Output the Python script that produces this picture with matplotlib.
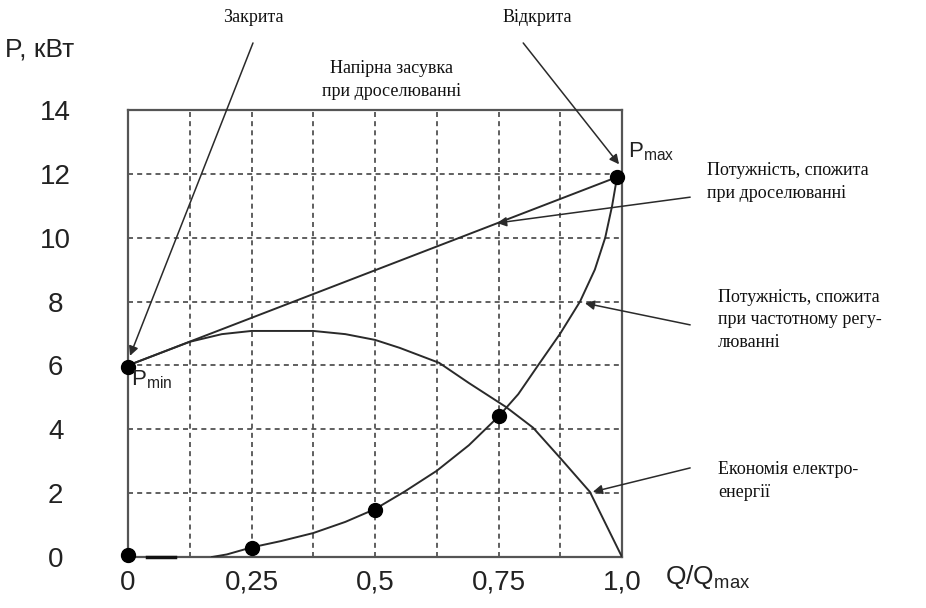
import numpy as np
import matplotlib
matplotlib.use("Agg")
import matplotlib.pyplot as plt

# values
q_ticks = [0, 0.25, 0.5, 0.75, 1.0]
q_tick_labels = ["0", "0,25", "0,5", "0,75", "1,0"]
p_ticks = [0, 2, 4, 6, 8, 10, 12, 14]

# power with throttling (straight line Pmin -> Pmax)
thr_q = [0, 0.99]
thr_p = [6, 11.9]

# power with frequency control
freq_q = [0.17, 0.2, 0.25, 0.31, 0.375, 0.44, 0.5, 0.56, 0.625, 0.69, 0.75, 0.79, 0.83,
          0.875, 0.915, 0.945, 0.966, 0.98, 0.99]
freq_p = [0.0, 0.08, 0.3, 0.5, 0.75, 1.1, 1.5, 2.05, 2.7, 3.5, 4.4, 5.1, 6.0,
          7.0, 8.0, 9.0, 10.0, 11.0, 11.9]

# energy saving
save_q = [0, 0.125, 0.19, 0.25, 0.375, 0.44, 0.5, 0.55, 0.63, 0.69, 0.765, 0.82, 0.875,
          0.935, 1.0]
save_p = [6.0, 6.74, 6.98, 7.08, 7.08, 6.98, 6.8, 6.55, 6.08, 5.45, 4.7, 4.05, 3.1,
          2.04, 0.0]

# black dots
dot_q = [0, 0, 0.25, 0.5, 0.75, 0.99]
dot_p = [0.05, 5.95, 0.28, 1.47, 4.42, 11.9]

sans = "Liberation Sans"
serif = "Liberation Serif"
ink = "#2a2a2a"

fig = plt.figure(figsize=(9.26, 6.08), dpi=100)
ax = fig.add_axes([128 / 926, 51 / 608, 494 / 926, 447 / 608])
ax.set_xlim(0, 1.0)
ax.set_ylim(0, 14)

# grid
for gx in np.arange(0.125, 1.0, 0.125):
    ax.axvline(gx, color="#444444", lw=1.2, ls=(0, (3, 2.5)), zorder=1)
for gy in p_ticks[1:-1]:
    ax.axhline(gy, color="#444444", lw=1.2, ls=(0, (3, 2.5)), zorder=1)

for s in ax.spines.values():
    s.set_color("#555555")
    s.set_linewidth(1.6)

ax.set_xticks(q_ticks)
ax.set_xticklabels(q_tick_labels, fontfamily=sans, fontsize=20, color="#222222")
ax.set_yticks(p_ticks)
ax.set_yticklabels([str(v) for v in p_ticks], fontfamily=sans, fontsize=20, color="#222222")
for lab in ax.get_yticklabels():
    lab.set_horizontalalignment("center")
ax.tick_params(axis="y", length=0, pad=52)
ax.tick_params(axis="x", length=0, pad=9)

# curves
ax.plot(thr_q, thr_p, color=ink, lw=1.4, zorder=3)
ax.plot(freq_q, freq_p, color=ink, lw=1.4, zorder=3)
ax.plot(save_q, save_p, color=ink, lw=1.4, zorder=3)
ax.plot([0.038, 0.095], [0.0, 0.0], color="#111111", lw=2.5, zorder=3, clip_on=False)
ax.plot(dot_q, dot_p, "o", color="black", ms=10, zorder=5, clip_on=False)

# arrows
arr = dict(arrowstyle="-|>", color=ink, lw=1.1, mutation_scale=14, shrinkA=0, shrinkB=0)
ax.annotate("", xy=(0.004, 6.3), xytext=(0.253, 16.1), arrowprops=arr, annotation_clip=False)
ax.annotate("", xy=(0.994, 12.3), xytext=(0.80, 16.1), arrowprops=arr, annotation_clip=False)
ax.annotate("", xy=(0.747, 10.46), xytext=(1.138, 11.27), arrowprops=arr, annotation_clip=False)
ax.annotate("", xy=(0.925, 7.95), xytext=(1.138, 7.27), arrowprops=arr, annotation_clip=False)
ax.annotate("", xy=(0.941, 2.04), xytext=(1.138, 2.79), arrowprops=arr, annotation_clip=False)

# texts
tkw = dict(fontfamily=serif, fontsize=13, color="#111111")
fig.text(253 / 926, 1 - 18 / 608, "Закрита", ha="center", va="center", **tkw)
fig.text(537 / 926, 1 - 18 / 608, "Відкрита", ha="center", va="center", **tkw)
fig.text(392 / 926, 1 - 80 / 608, "Напірна засувка\nпри дроселюванні", ha="center", va="center",
         linespacing=1.4, **tkw)
fig.text(707 / 926, 1 - 182 / 608, "Потужність, спожита\nпри дроселюванні", ha="left", va="center",
         linespacing=1.4, **tkw)
fig.text(718 / 926, 1 - 320 / 608, "Потужність, спожита\nпри частотному регу-\nлюванні", ha="left",
         va="center", linespacing=1.4, **tkw)
fig.text(718 / 926, 1 - 481 / 608, "Економія електро-\nенергії", ha="left", va="center",
         linespacing=1.4, **tkw)

fig.text(5 / 926, 1 - 50 / 608, "P, кВт", ha="left", va="center", fontfamily=sans, fontsize=19,
         color="#222222")
fig.text(665 / 926, 1 - 577 / 608, r"Q/Q$_{\mathregular{max}}$", ha="left", va="center",
         fontfamily=sans, fontsize=19, color="#222222")
fig.text(628 / 926, 1 - 152 / 608, r"P$_{\mathregular{max}}$", ha="left", va="center",
         fontfamily=sans, fontsize=16, color="#222222")
fig.text(131 / 926, 1 - 380 / 608, r"P$_{\mathregular{min}}$", ha="left", va="center",
         fontfamily=sans, fontsize=16, color="#222222")

fig.savefig("out.png", dpi=100)
